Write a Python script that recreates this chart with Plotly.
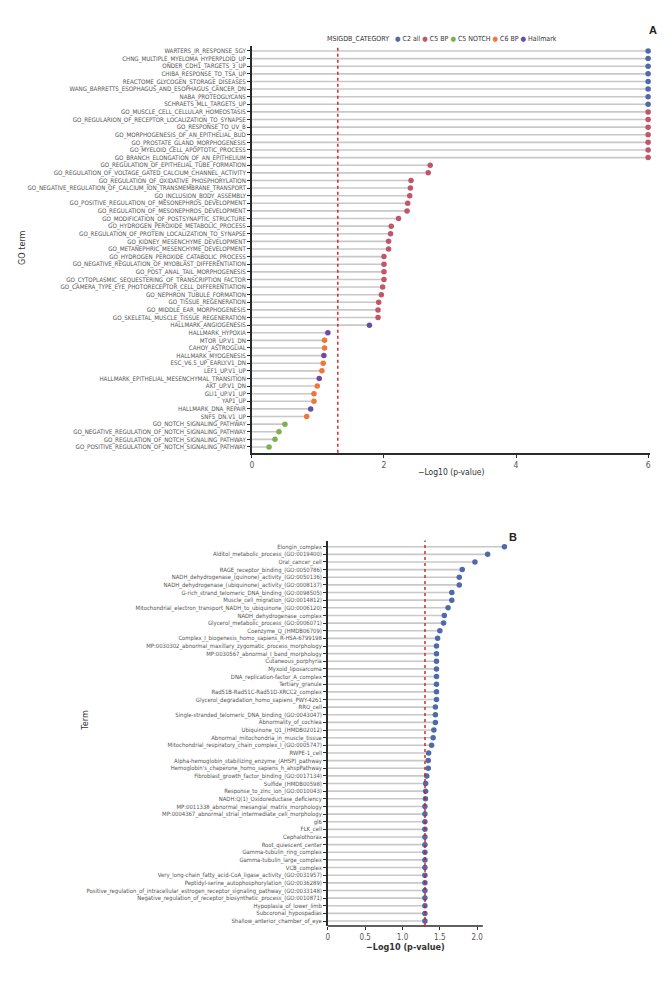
import math
import plotly.graph_objects as go

# The page adds an 8px body margin; the figure is sized/offset to compensate.
PAGE_W, PAGE_H = 670, 999
OFF = 8
W, H = PAGE_W - OFF, PAGE_H - 2 * OFF

# ---------------- Panel A data ----------------
terms_a = [
    "WARTERS_IR_RESPONSE_5GY",
    "CHNG_MULTIPLE_MYELOMA_HYPERPLOID_UP",
    "ONDER_CDH1_TARGETS_3_UP",
    "CHIBA_RESPONSE_TO_TSA_UP",
    "REACTOME_GLYCOGEN_STORAGE_DISEASES",
    "WANG_BARRETTS_ESOPHAGUS_AND_ESOPHAGUS_CANCER_DN",
    "NABA_PROTEOGLYCANS",
    "SCHRAETS_MLL_TARGETS_UP",
    "GO_MUSCLE_CELL_CELLULAR_HOMEOSTASIS",
    "GO_REGULARION_OF_RECEPTOR_LOCALIZATION_TO_SYNAPSE",
    "GO_RESPONSE_TO_UV_B",
    "GO_MORPHOGENESIS_OF_AN_EPITHELIAL_BUD",
    "GO_PROSTATE_GLAND_MORPHOGENESIS",
    "GO_MYELOID_CELL_APOPTOTIC_PROCESS",
    "GO_BRANCH_ELONGATION_OF_AN_EPITHELIUM",
    "GO_REGULATION_OF_EPITHELIAL_TUBE_FORMATION",
    "GO_REGULATION_OF_VOLTAGE_GATED_CALCIUM_CHANNEL_ACTIVITY",
    "GO_REGULATION_OF_OXIDATIVE_PHOSPHORYLATION",
    "GO_NEGATIVE_REGULATION_OF_CALCIUM_ION_TRANSMEMBRANE_TRANSPORT",
    "GO_INCLUSION_BODY_ASSEMBLY",
    "GO_POSITIVE_REGULATION_OF_MESONEPHROS_DEVELOPMENT",
    "GO_REGULATION_OF_MESONEPHROS_DEVELOPMENT",
    "GO_MODIFICATION_OF_POSTSYNAPTIC_STRUCTURE",
    "GO_HYDROGEN_PEROXIDE_METABOLIC_PROCESS",
    "GO_REGULATION_OF_PROTEIN_LOCALIZATION_TO_SYNAPSE",
    "GO_KIDNEY_MESENCHYME_DEVELOPMENT",
    "GO_METANEPHRIC_MESENCHYME_DEVELOPMENT",
    "GO_HYDROGEN_PEROXIDE_CATABOLIC_PROCESS",
    "GO_NEGATIVE_REGULATION_OF_MYOBLAST_DIFFERENTIATION",
    "GO_POST_ANAL_TAIL_MORPHOGENESIS",
    "GO_CYTOPLASMIC_SEQUESTERING_OF_TRANSCRIPTION_FACTOR",
    "GO_CAMERA_TYPE_EYE_PHOTORECEPTOR_CELL_DIFFERENTIATION",
    "GO_NEPHRON_TUBULE_FORMATION",
    "GO_TISSUE_REGENERATION",
    "GO_MIDDLE_EAR_MORPHOGENESIS",
    "GO_SKELETAL_MUSCLE_TISSUE_REGENERATION",
    "HALLMARK_ANGIOGENESIS",
    "HALLMARK_HYPOXIA",
    "MTOR_UP.V1_DN",
    "CAHOY_ASTROGLIAL",
    "HALLMARK_MYOGENESIS",
    "ESC_V6.5_UP_EARLY.V1_DN",
    "LEF1_UP.V1_UP",
    "HALLMARK_EPITHELIAL_MESENCHYMAL_TRANSITION",
    "AKT_UP.V1_DN",
    "GLI1_UP.V1_UP",
    "YAP1_UP",
    "HALLMARK_DNA_REPAIR",
    "SNF5_DN.V1_UP",
    "GO_NOTCH_SIGNALING_PATHWAY",
    "GO_NEGATIVE_REGULATION_OF_NOTCH_SIGNALING_PATHWAY",
    "GO_REGULATION_OF_NOTCH_SIGNALING_PATHWAY",
    "GO_POSITIVE_REGULATION_OF_NOTCH_SIGNALING_PATHWAY",
]
values_a = [
    6.0, 6.0, 6.0, 6.0, 6.0, 6.0, 6.0, 6.0,
    6.0, 6.0, 6.0, 6.0, 6.0, 6.0, 6.0,
    2.70, 2.67, 2.41, 2.40, 2.39, 2.36, 2.35, 2.22, 2.11, 2.10,
    2.07, 2.07, 2.00, 2.00, 2.00, 2.00, 1.98, 1.96, 1.92, 1.91, 1.91,
    1.78, 1.15, 1.10, 1.10, 1.09, 1.08, 1.06, 1.02, 0.99, 0.94, 0.94,
    0.89, 0.83, 0.50, 0.41, 0.35, 0.26,
]
cats_a = (
    ["C2 all"] * 8
    + ["C5 BP"] * 28
    + ["Hallmark", "Hallmark", "C6 BP", "C6 BP", "Hallmark", "C6 BP", "C6 BP",
       "Hallmark", "C6 BP", "C6 BP", "C6 BP", "Hallmark", "C6 BP"]
    + ["C5 NOTCH"] * 4
)

category_names = ["C2 all", "C5 BP", "C5 NOTCH", "C6 BP", "Hallmark"]
category_colors = ["#4e6aa8", "#c0566a", "#7db04f", "#f0763a", "#6a4ca8"]

# ---------------- Panel B data ----------------
terms_b = [
    "Elongin_complex",
    "Alditol_metabolic_process_(GO:0019400)",
    "Oral_cancer_cell",
    "RAGE_receptor_binding_(GO:0050786)",
    "NADH_dehydrogenase_(quinone)_activity_(GO:0050136)",
    "NADH_dehydrogenase_(ubiquinone)_activity_(GO:0008137)",
    "G-rich_strand_telomeric_DNA_binding_(GO:0098505)",
    "Muscle_cell_migration_(GO:0014812)",
    "Mitochondrial_electron_transport_NADH_to_ubiquinone_(GO:0006120)",
    "NADH_dehydrogenase_complex",
    "Glycerol_metabolic_process_(GO:0006071)",
    "Coenzyme_Q_(HMDB06709)",
    "Complex_I_biogenesis_homo_sapiens_R-HSA-6799198",
    "MP:0030302_abnormal_maxillary_zygomatic_process_morphology",
    "MP:0030567_abnormal_I_band_morphology",
    "Cutaneous_porphyria",
    "Myxoid_liposarcoma",
    "DNA_replication-factor_A_complex",
    "Tertiary_granule",
    "Rad51B-Rad51C-Rad51D-XRCC2_complex",
    "Glycerol_degradation_homo_sapiens_PWY-4261",
    "RRO_cell",
    "Single-stranded_telomeric_DNA_binding_(GO:0043047)",
    "Abnormality_of_cochlea",
    "Ubiquinone_Q1_(HMDB02012)",
    "Abnormal_mitochondria_in_muscle_tissue",
    "Mitochondrial_respiratory_chain_complex_I_(GO:0005747)",
    "RWPE-1_cell",
    "Alpha-hemoglobin_stabilizing_enzyme_(AHSP)_pathway",
    "Hemoglobin's_chaperone_homo_sapiens_h_ahspPathway",
    "Fibroblast_growth_factor_binding_(GO:0017134)",
    "Sulfide_(HMDB00598)",
    "Response_to_zinc_ion_(GO:0010043)",
    "NADH:Q(1)_Oxidoreductase_deficiency",
    "MP:0011338_abnormal_mesangial_matrix_morphology",
    "MP:0004367_abnormal_strial_intermediate_cell_morphology",
    "gl6",
    "FLK_cell",
    "Cephalothorax",
    "Root_quiescent_center",
    "Gamma-tubulin_ring_complex",
    "Gamma-tubulin_large_complex",
    "VCB_complex",
    "Very_long-chain_fatty_acid-CoA_ligase_activity_(GO:0031957)",
    "Peptidyl-serine_autophosphorylation_(GO:0036289)",
    "Positive_regulation_of_intracellular_estrogen_receptor_signaling_pathway_(GO:0033148)",
    "Negative_regulation_of_receptor_biosynthetic_process_(GO:0010871)",
    "Hypoplasia_of_lower_limb",
    "Subcoronal_hypospadias",
    "Shallow_anterior_chamber_of_eye",
]
values_b = [
    2.365, 2.14, 1.97, 1.80, 1.76, 1.76, 1.66, 1.66, 1.61, 1.56,
    1.55, 1.50, 1.47, 1.455, 1.455, 1.455, 1.455, 1.455, 1.455, 1.455,
    1.455, 1.44, 1.44, 1.44, 1.42, 1.41, 1.39, 1.35, 1.345, 1.345,
    1.325, 1.31, 1.31, 1.307, 1.30, 1.30, 1.30, 1.30, 1.30, 1.30,
    1.30, 1.30, 1.30, 1.30, 1.30, 1.30, 1.30, 1.30, 1.30, 1.30,
]
color_b = "#4e6aa8"
ticks_b = [0, 0.5, 1.0, 1.5, 2.0]
ticktext_b = ["0", "0.5", "1.0", "1.5", "2.0"]
AXIS_END_B = 2.075   # drawn x-axis line stops here; data runs past it

THRESHOLD = -math.log10(0.05)

# ---------------- styling ----------------
LABEL_FONT = "Liberation Sans Narrow, DejaVu Sans Condensed, Roboto Condensed, Arial Narrow, sans-serif"
STEM = "#c8c8c8"
AXIS = "#2b2b2b"
TXT = "#555555"
TICK_SIZE_A = 6.2
TICK_SIZE_B = 5.9


def stems(values, terms):
    xs, ys = [], []
    for v, t in zip(values, terms):
        xs += [0, v, None]
        ys += [t, t, None]
    return xs, ys


fig = go.Figure()

# Panel A stems
sx, sy = stems(values_a, terms_a)
fig.add_trace(go.Scatter(x=sx, y=sy, mode="lines", line=dict(color=STEM, width=1.6),
                         showlegend=False, hoverinfo="skip", xaxis="x", yaxis="y"))
# Panel A dots by category
for name, col in zip(category_names, category_colors):
    xs = [v for v, c in zip(values_a, cats_a) if c == name]
    ys = [t for t, c in zip(terms_a, cats_a) if c == name]
    fig.add_trace(go.Scatter(x=xs, y=ys, mode="markers", name=name,
                             marker=dict(color=col, size=5.5),
                             cliponaxis=False, showlegend=False,
                             xaxis="x", yaxis="y"))

# Panel B
sx, sy = stems(values_b, terms_b)
fig.add_trace(go.Scatter(x=sx, y=sy, mode="lines", line=dict(color=STEM, width=1.6),
                         showlegend=False, hoverinfo="skip", xaxis="x2", yaxis="y2"))
fig.add_trace(go.Scatter(x=values_b, y=terms_b, mode="markers",
                         marker=dict(color=color_b, size=5.5), cliponaxis=False,
                         showlegend=False, xaxis="x2", yaxis="y2"))


def px_x(p):
    return (p - OFF) / W


def px_y(p):
    return 1 - (p - OFF) / H


# Geometry in page pixels
A_left, A_right, A_top, A_bot = 251, 651, 45.5, 452.7
B_left, B_top, B_bot = 327.3, 540.5, 926
B_scale = 75.0                      # px per unit on panel B x-axis
B_range_max = 2.44
B_right = B_left + B_scale * B_range_max

axis_common = dict(showgrid=False, zeroline=False, showline=True, linecolor=AXIS,
                   linewidth=1.6, ticks="outside", ticklen=3, tickwidth=1.4,
                   tickcolor=AXIS)

xaxis2_style = dict(axis_common)
xaxis2_style["showline"] = False

fig.update_layout(
    width=W, height=H,
    margin=dict(l=0, r=0, t=0, b=0),
    paper_bgcolor="white", plot_bgcolor="white",
    showlegend=False,
    font=dict(family=LABEL_FONT, color=TXT),
    xaxis=dict(domain=[px_x(A_left), px_x(A_right)], range=[0, 6.03], anchor="y",
               tickvals=[0, 2, 4, 6], tickfont=dict(size=8.5, color=TXT),
               **axis_common),
    yaxis=dict(domain=[px_y(A_bot), px_y(A_top)], anchor="x", type="category",
               categoryorder="array", categoryarray=terms_a,
               tickmode="array", tickvals=terms_a, ticktext=terms_a,
               range=[len(terms_a) - 1 + 0.75, -0.72],
               tickfont=dict(size=TICK_SIZE_A, color=TXT), **axis_common),
    xaxis2=dict(domain=[px_x(B_left), px_x(B_right)], range=[0, B_range_max],
                anchor="y2", tickvals=ticks_b, ticktext=ticktext_b,
                tickfont=dict(size=8, color=TXT), **xaxis2_style),
    yaxis2=dict(domain=[px_y(B_bot), px_y(B_top)], anchor="x2", type="category",
                categoryorder="array", categoryarray=terms_b,
                tickmode="array", tickvals=terms_b, ticktext=terms_b,
                range=[len(terms_b) - 1 + 0.65, -0.81],
                tickfont=dict(size=TICK_SIZE_B, color=TXT), **axis_common),
)

# Panel B x-axis line, shorter than the data extent (as in the original)
fig.add_shape(type="line", xref="x2", yref="y2 domain", x0=0, x1=AXIS_END_B,
              y0=0, y1=0, line=dict(color=AXIS, width=1.6), layer="above")

# Significance threshold lines
for xr, yr in [("x", "y domain"), ("x2", "y2 domain")]:
    fig.add_shape(type="line", xref=xr, yref=yr, x0=THRESHOLD, x1=THRESHOLD,
                  y0=0, y1=1, line=dict(color="#d7191c", width=1.4, dash="dot"))


def note(xp, yp, text, size, color="#333333", angle=0, family=LABEL_FONT,
         xanchor="center"):
    fig.add_annotation(x=px_x(xp), y=px_y(yp), xref="paper", yref="paper",
                       xanchor=xanchor, yanchor="middle", showarrow=False,
                       text=text, textangle=angle,
                       font=dict(size=size, color=color, family=family))


# Legend built as text from the category lists
legend_parts = ["MSIGDB_CATEGORY&nbsp;&nbsp;"]
for name, col in zip(category_names, category_colors):
    legend_parts.append(f"&nbsp;<span style='color:{col}'>●</span>&nbsp;{name}")
note(324, 39, "".join(legend_parts), 7.0, xanchor="left")

# Panel letters
note(654, 30, "<b>A</b>", 11, "#222222", family="Liberation Sans, Arial, sans-serif")
note(513, 537, "<b>B</b>", 11, "#222222", family="Liberation Sans, Arial, sans-serif")

# Axis titles
note((A_left + A_right) / 2, 472, "\u2212Log10 (p-value)", 8.5)
note(20, 247, "GO term", 9, angle=-90)
note(B_left + B_scale * AXIS_END_B / 2, 947, "<b>\u2212Log10 (p-value)</b>", 9)
note(83, 720, "Term", 9, angle=-90)

fig.write_html("out.html")
